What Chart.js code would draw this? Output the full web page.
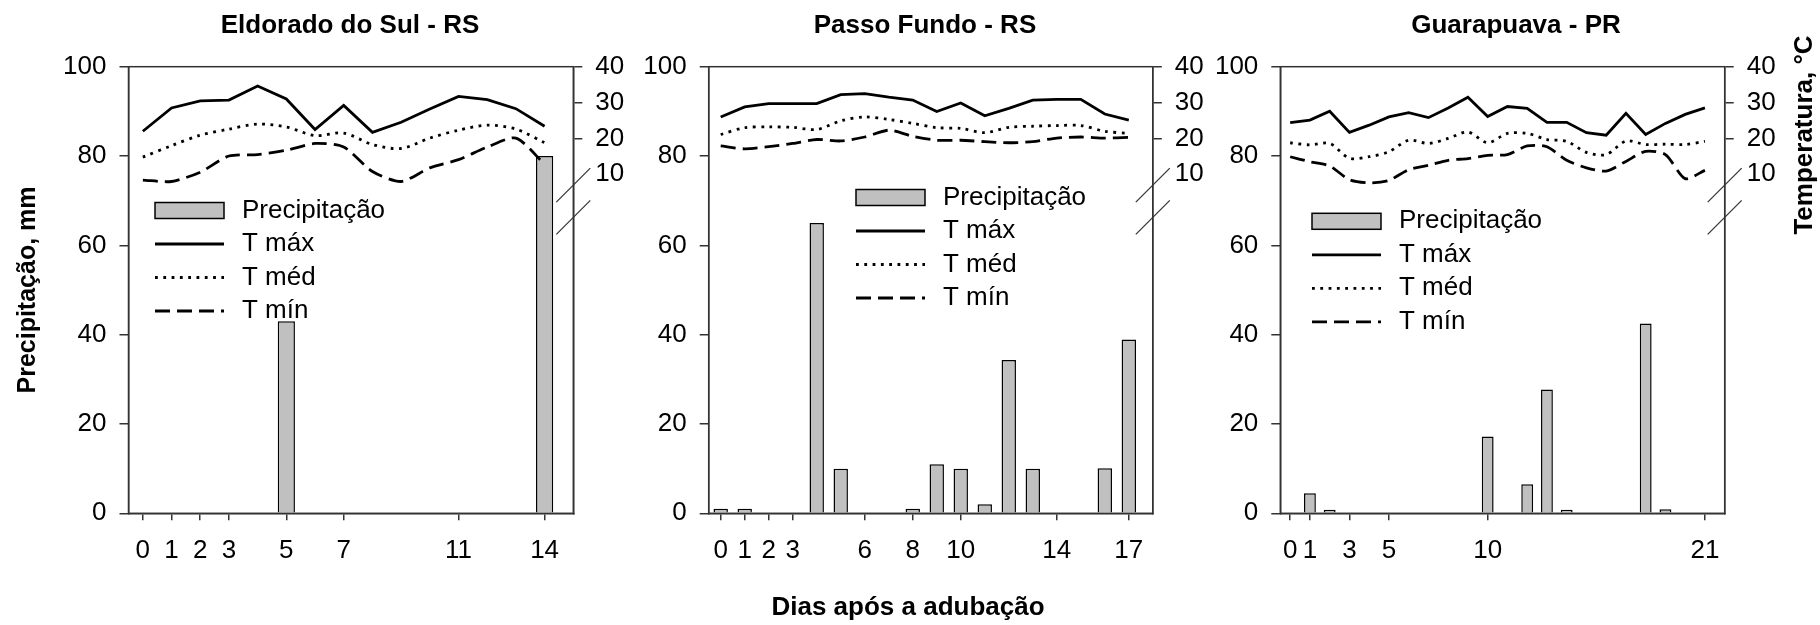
<!DOCTYPE html>
<html>
<head>
<meta charset="utf-8">
<title>Precipitação e temperatura após a adubação</title>
<script src="https://cdn.jsdelivr.net/npm/chart.js@4.4.1/dist/chart.umd.min.js"></script>
<style>
  body { margin: 0; background: #fff; }
  #wrap { position: relative; width: 1820px; height: 625px; }
  canvas { position: absolute; top: 0; }
</style>
</head>
<body>
<div id="wrap">
  <canvas id="eldorado" width="630" height="625" style="left:0px"></canvas>
  <canvas id="passo" width="578" height="625" style="left:630px"></canvas>
  <canvas id="guarapuava" width="612" height="625" style="left:1208px"></canvas>
</div>
<script>
// Eldorado do Sul - RS (dias 0 a 14)
var eldoradoPrec = [0, 0, 0, 0, 0, 43, 0, 0, 0, 0, 0, 0, 0, 0, 80];
var eldoradoTmax = [22.0, 28.5, 30.5, 30.7, 34.6, 31.0, 22.5, 29.2, 21.7, 24.5, 28.2, 31.7, 30.8, 28.3, 23.4];
var eldoradoTmed = [14.8, 18.0, 20.9, 22.6, 24.0, 23.2, 20.8, 21.5, 18.3, 17.2, 20.1, 22.3, 23.7, 22.6, 18.8];
var eldoradoTmin = [8.4, 8.0, 10.6, 15.1, 15.5, 16.7, 18.6, 17.6, 10.8, 8.0, 11.8, 14.1, 17.6, 20.1, 12.8];
var eldoradoTicks = [0, 1, 2, 3, 5, 7, 11, 14];

// Passo Fundo - RS (dias 0 a 17)
var passoPrec = [1, 1, 0, 0, 65, 10, 0, 0, 1, 11, 10, 2, 34.3, 10, 0, 0, 10.1, 38.9];
var passoTmax = [26.0, 28.8, 29.7, 29.7, 29.7, 32.2, 32.5, 31.5, 30.7, 27.5, 29.9, 26.3, 28.4, 30.7, 30.9, 30.9, 26.8, 25.1];
var passoTmed = [21.1, 23.0, 23.2, 23.1, 22.5, 24.9, 26.0, 25.3, 24.2, 23.0, 22.8, 21.6, 23.1, 23.4, 23.6, 23.6, 22.0, 21.4];
var passoTmin = [17.9, 17.1, 17.7, 18.6, 19.7, 19.3, 20.4, 22.3, 20.6, 19.5, 19.5, 19.1, 18.8, 19.1, 20.1, 20.4, 20.1, 20.3];
var passoTicks = [0, 1, 2, 3, 6, 8, 10, 14, 17];

// Guarapuava - PR (dias 0 a 21)
var guarapuavaPrec = [0.2, 4.5, 0.8, 0, 0, 0, 0, 0, 0.2, 0, 17.2, 0, 6.5, 27.7, 0.8, 0, 0.2, 0, 42.5, 0.9, 0, 0];
var guarapuavaTmax = [24.4, 25.1, 27.6, 21.7, 23.7, 26.0, 27.2, 25.8, 28.5, 31.5, 26.1, 28.9, 28.4, 24.5, 24.5, 21.6, 20.9, 27.0, 21.1, 24.2, 26.7, 28.5];
var guarapuavaTmed = [18.8, 18.2, 18.6, 14.5, 14.9, 16.3, 19.5, 18.6, 20.0, 21.8, 18.8, 21.4, 21.4, 19.7, 19.2, 16.1, 15.5, 19.3, 18.3, 18.4, 18.3, 19.2];
var guarapuavaTmin = [14.9, 13.5, 12.3, 8.5, 7.6, 8.3, 11.3, 12.5, 13.9, 14.4, 15.3, 15.5, 17.9, 17.7, 13.9, 11.8, 10.9, 13.6, 16.4, 15.5, 8.8, 11.1];
var guarapuavaTicks = [0, 1, 3, 5, 10, 21];

var precTicks = [0, 20, 40, 60, 80, 100];
var tempTicks = [10, 20, 30, 40];

var fonte = "'Liberation Sans', Arial, sans-serif";
var corEixo = '#333';
Chart.defaults.font.family = fonte;
Chart.defaults.color = '#000';

function pontos(valores) {
    return valores.map(function (v, i) { return { x: i, y: v }; });
}

// legenda, moldura, quebra do eixo e textos soltos
var decoracao = {
    id: 'decoracao',
    afterDraw: function (chart, args, opts) {
        var ctx = chart.ctx;
        var a = chart.chartArea;
        var yT = chart.scales.yT;
        var dx = opts.offsetX;
        ctx.save();

        ctx.strokeStyle = corEixo;
        ctx.lineWidth = 1.5;
        ctx.strokeRect(a.left, a.top, a.right - a.left, a.bottom - a.top);

        ctx.lineWidth = 1.2;
        [7, -2].forEach(function (t) {
            var y = yT.getPixelForValue(t);
            ctx.beginPath();
            ctx.moveTo(a.right - 17, y + 17);
            ctx.lineTo(a.right + 17, y - 17);
            ctx.stroke();
        });

        ctx.fillStyle = '#000';
        ctx.textAlign = 'center';
        ctx.textBaseline = 'middle';
        ctx.font = 'bold 26px ' + fonte;
        ctx.fillText(opts.titulo, opts.tituloX - dx, 26);

        (opts.textos || []).forEach(function (t) {
            ctx.save();
            ctx.translate(t.x - dx, t.y);
            ctx.rotate(t.rot || 0);
            ctx.font = 'bold 26px ' + fonte;
            ctx.fillText(t.texto, 0, 0);
            ctx.restore();
        });

        ctx.textAlign = 'left';
        ctx.font = '26px ' + fonte;
        chart.data.datasets.forEach(function (ds, i) {
            var x = opts.legendaX - dx;
            var y = opts.legendaY + i * 33.5;
            if (ds.type === 'bar') {
                ctx.fillStyle = ds.backgroundColor;
                ctx.fillRect(x, y - 8, 69, 16);
                ctx.lineWidth = 1.5;
                ctx.strokeStyle = '#000';
                ctx.strokeRect(x, y - 8, 69, 16);
            } else {
                ctx.setLineDash(ds.borderDash || []);
                ctx.lineWidth = ds.borderWidth;
                ctx.strokeStyle = ds.borderColor;
                ctx.beginPath();
                ctx.moveTo(x, y);
                ctx.lineTo(x + 69, y);
                ctx.stroke();
                ctx.setLineDash([]);
            }
            ctx.fillStyle = '#000';
            ctx.fillText(ds.label, x + 87, y);
        });
        ctx.restore();
    }
};

function grafico(id, cfg) {
    return new Chart(document.getElementById(id).getContext('2d'), {
        type: 'bar',
        data: {
            datasets: [{
                type: 'bar',
                label: 'Precipitação',
                data: pontos(cfg.prec),
                yAxisID: 'yP',
                backgroundColor: '#c0c0c0',
                borderColor: '#000',
                borderWidth: 1.5,
                barPercentage: 0.6,
                categoryPercentage: 1,
                order: 1
            }, {
                type: 'line',
                label: 'T máx',
                data: pontos(cfg.tmax),
                yAxisID: 'yT',
                borderColor: '#000',
                borderWidth: 2.8,
                pointRadius: 0,
                tension: 0,
                order: 0
            }, {
                type: 'line',
                label: 'T méd',
                data: pontos(cfg.tmed),
                yAxisID: 'yT',
                borderColor: '#000',
                borderWidth: 2.8,
                borderDash: [2.8, 5.5],
                pointRadius: 0,
                tension: 0.3,
                order: 0
            }, {
                type: 'line',
                label: 'T mín',
                data: pontos(cfg.tmin),
                yAxisID: 'yT',
                borderColor: '#000',
                borderWidth: 2.8,
                borderDash: [15, 7],
                pointRadius: 0,
                tension: 0.25,
                order: 0
            }]
        },
        options: {
            responsive: false,
            animation: false,
            layout: { autoPadding: false, padding: { left: 0, right: 0, top: 66.7, bottom: 61.7 } },
            plugins: {
                legend: { display: false },
                tooltip: { enabled: false },
                decoracao: cfg.deco
            },
            scales: {
                x: {
                    type: 'linear',
                    min: -0.5,
                    max: cfg.xMax,
                    offset: false,
                    afterBuildTicks: function (axis) {
                        axis.ticks = cfg.ticks.map(function (v) { return { value: v }; });
                    },
                    afterFit: function (axis) { axis.height = 50; },
                    grid: { offset: false, drawOnChartArea: false, tickLength: 7, color: corEixo, lineWidth: 1.5 },
                    border: { color: corEixo, width: 1.5 },
                    ticks: {
                        autoSkip: false, maxRotation: 0, minRotation: 0, padding: 15,
                        font: { size: 26 },
                        callback: function (v) { return v; }
                    }
                },
                yP: {
                    position: 'left',
                    min: 0,
                    max: 100,
                    afterBuildTicks: function (axis) {
                        axis.ticks = precTicks.map(function (v) { return { value: v }; });
                    },
                    afterFit: function (axis) { axis.width = cfg.wl; },
                    grid: { drawOnChartArea: false, tickLength: 9, color: corEixo, lineWidth: 1.5 },
                    border: { color: corEixo, width: 1.5 },
                    ticks: { padding: 13, font: { size: 26 } },
                    title: {
                        display: !!cfg.tituloP,
                        text: cfg.tituloP || '',
                        font: { size: 25, weight: 'bold' },
                        padding: { top: 13, bottom: 0 }
                    }
                },
                yT: {
                    position: 'right',
                    min: -84.5,
                    max: 40,
                    afterBuildTicks: function (axis) {
                        axis.ticks = tempTicks.map(function (v) { return { value: v }; });
                    },
                    afterFit: function (axis) { axis.width = cfg.wr; },
                    grid: {
                        drawOnChartArea: false, tickLength: 9, lineWidth: 1.5,
                        color: function (c) { return c.tick && c.tick.value === 10 ? 'rgba(0,0,0,0)' : corEixo; }
                    },
                    border: { color: corEixo, width: 1.5 },
                    ticks: { padding: 13, font: { size: 26 } }
                }
            }
        },
        plugins: [decoracao]
    });
}

grafico('eldorado', {
    prec: eldoradoPrec, tmax: eldoradoTmax, tmed: eldoradoTmed, tmin: eldoradoTmin,
    ticks: eldoradoTicks, xMax: 15, wl: 128.5, wr: 56.7,
    tituloP: 'Precipitação, mm',
    deco: { offsetX: 0, titulo: 'Eldorado do Sul - RS', tituloX: 350, legendaX: 155, legendaY: 210.5 }
});

grafico('passo', {
    prec: passoPrec, tmax: passoTmax, tmed: passoTmed, tmin: passoTmin,
    ticks: passoTicks, xMax: 18, wl: 78.7, wr: 55.2,
    deco: {
        offsetX: 630, titulo: 'Passo Fundo - RS', tituloX: 925, legendaX: 856, legendaY: 197.5,
        textos: [{ texto: 'Dias após a adubação', x: 908, y: 608 }]
    }
});

grafico('guarapuava', {
    prec: guarapuavaPrec, tmax: guarapuavaTmax, tmed: guarapuavaTmed, tmin: guarapuavaTmin,
    ticks: guarapuavaTicks, xMax: 22, wl: 72.3, wr: 95.3,
    deco: {
        offsetX: 1208, titulo: 'Guarapuava - PR', tituloX: 1516, legendaX: 1312, legendaY: 221.3,
        textos: [{ texto: 'Temperatura, °C', x: 1805, y: 135, rot: -Math.PI / 2 }]
    }
});
</script>
</body>
</html>
